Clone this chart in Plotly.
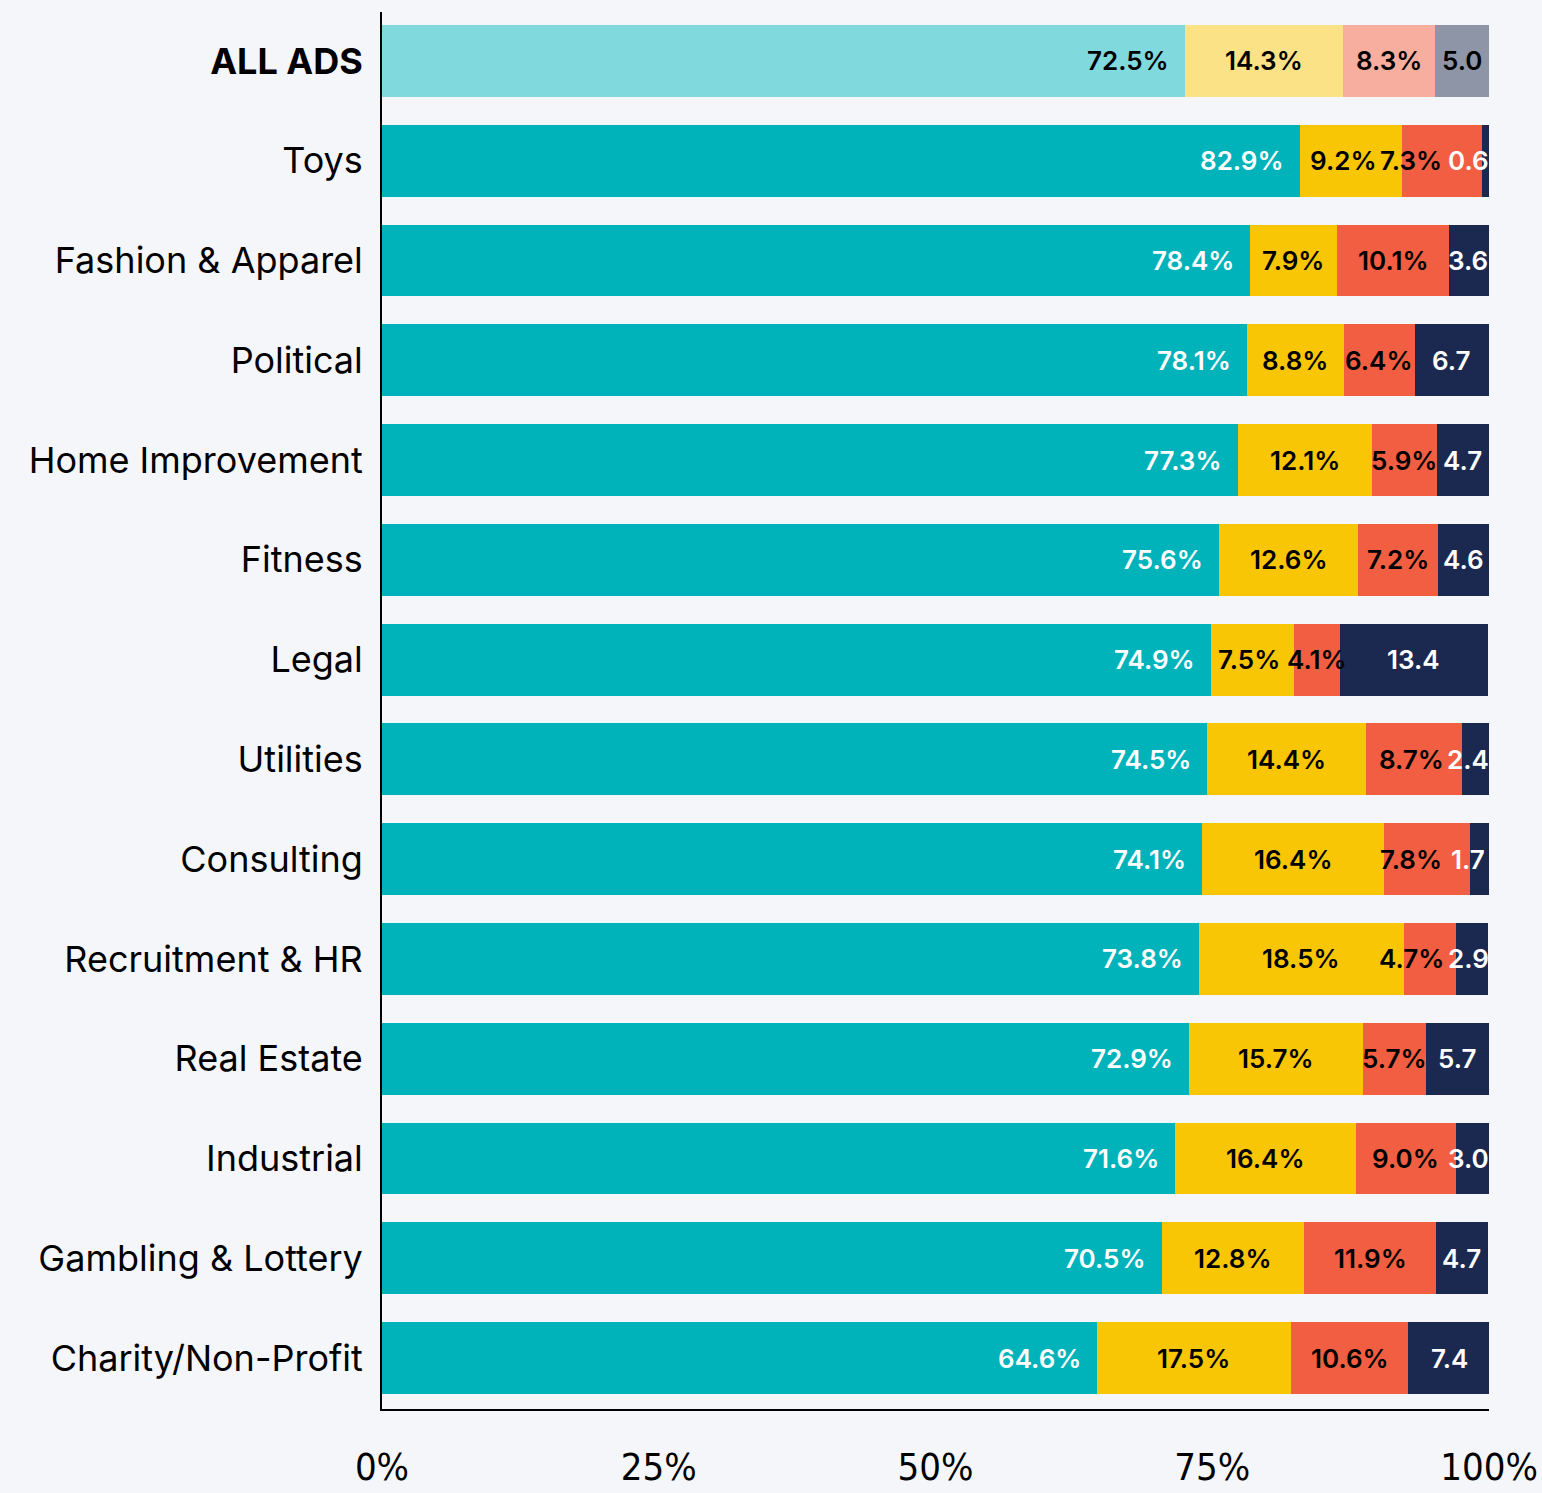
import plotly.graph_objects as go

categories = ["ALL ADS", "Toys", "Fashion & Apparel", "Political", "Home Improvement",
              "Fitness", "Legal", "Utilities", "Consulting", "Recruitment & HR",
              "Real Estate", "Industrial", "Gambling & Lottery", "Charity/Non-Profit"]
seg1 = [72.5, 82.9, 78.4, 78.1, 77.3, 75.6, 74.9, 74.5, 74.1, 73.8, 72.9, 71.6, 70.5, 64.6]
seg2 = [14.3, 9.2, 7.9, 8.8, 12.1, 12.6, 7.5, 14.4, 16.4, 18.5, 15.7, 16.4, 12.8, 17.5]
seg3 = [8.3, 7.3, 10.1, 6.4, 5.9, 7.2, 4.1, 8.7, 7.8, 4.7, 5.7, 9.0, 11.9, 10.6]
seg4 = [5.0, 0.6, 3.6, 6.7, 4.7, 4.6, 13.4, 2.4, 1.7, 2.9, 5.7, 3.0, 4.7, 7.4]
x_ticks = [0, 25, 50, 75, 100]
x_tick_labels = ["0%", "25%", "50%", "75%", "100%"]

colors_main = ["#00B3BA", "#F8C604", "#F25E41", "#1B2850"]
colors_light = ["#80D9DC", "#FBE286", "#F8AE9F", "#8D95A7"]
text_main = ["white", "black", "black", "white"]
BG = "#F5F6FA"

series = [seg1, seg2, seg3, seg4]
labels_fmt = [lambda v: f"{v:.1f}%", lambda v: f"{v:.1f}%", lambda v: f"{v:.1f}%", lambda v: f"{v:.1f}"]

L, R, T, B = 382, 53, 12, 84
W, H = 1542, 1493
plot_w = W - L - R
px_per_unit = plot_w / 100.0

fig = go.Figure()
for k, vals in enumerate(series):
    cols = [colors_light[k] if c == "ALL ADS" else colors_main[k] for c in categories]
    fig.add_trace(go.Bar(
        y=categories, x=vals, orientation="h",
        marker=dict(color=cols, line=dict(width=0)),
        hoverinfo="skip", showlegend=False,
    ))


def text_w(s):
    w = 0
    for ch in s:
        if ch.isdigit():
            w += 15.5
        elif ch == ".":
            w += 7
        elif ch == "%":
            w += 22
    return w / px_per_unit  # in data units


annotations = []
fsize = 26
for i, cat in enumerate(categories):
    starts = [0, seg1[i], seg1[i] + seg2[i], seg1[i] + seg2[i] + seg3[i]]
    vals = [seg1[i], seg2[i], seg3[i], seg4[i]]
    texts = [labels_fmt[k](vals[k]) for k in range(4)]
    widths = [text_w(t) for t in texts]
    centers = [None] * 4
    right_limit = 100 - 2 / px_per_unit
    gap = 8 / px_per_unit
    for k in [3, 2, 1]:
        c = starts[k] + vals[k] / 2
        if c + widths[k] / 2 > right_limit:
            c = right_limit - widths[k] / 2
        centers[k] = c
        right_limit = c - widths[k] / 2 - gap
    for k in range(4):
        color = "black" if cat == "ALL ADS" else text_main[k]
        if k == 0:
            annotations.append(dict(
                x=starts[0] + vals[0], y=cat, text=texts[0], showarrow=False,
                xanchor="right", xshift=-14, yanchor="middle",
                font=dict(family="Inter", size=fsize, color=color, weight=600)))
        else:
            annotations.append(dict(
                x=centers[k], y=cat, text=texts[k], showarrow=False,
                xanchor="center", yanchor="middle",
                font=dict(family="Inter", size=fsize, color=color, weight=600)))

ticktext_y = [f"<b>{c}</b>" if c == "ALL ADS" else c for c in categories]

fig.update_layout(
    barmode="stack",
    bargap=0.28,
    width=W, height=H,
    margin=dict(l=L, r=R, t=T, b=B, pad=0),
    paper_bgcolor=BG, plot_bgcolor=BG,
    annotations=annotations,
    xaxis=dict(
        range=[0, 100], tickvals=x_ticks, ticktext=x_tick_labels, automargin=False,
        showgrid=False, zeroline=False, showline=True, linecolor="black", linewidth=2,
        ticks="outside", ticklen=23, tickcolor=BG,
        tickfont=dict(family="Liberation Sans Narrow, DejaVu Sans Condensed, Roboto Condensed, Liberation Sans",
                      size=38, color="black"),
    ),
    yaxis=dict(
        range=[13.51, -0.49], tickvals=categories, ticktext=ticktext_y, automargin=False,
        showgrid=False, zeroline=False, showline=True, linecolor="black", linewidth=2,
        ticks="outside", ticklen=10, tickcolor=BG,
        tickfont=dict(family="Inter", size=36, color="black"),
    ),
)

fig.write_html("out.html", config={"displayModeBar": False},
               post_script="document.body.style.margin='0';document.body.style.overflow='hidden';document.body.style.background='#F5F6FA';")
